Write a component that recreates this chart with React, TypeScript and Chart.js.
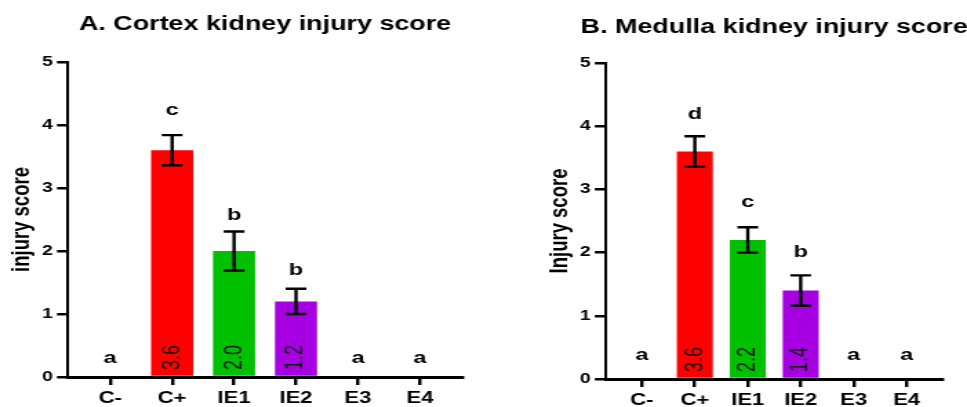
import React, { useEffect, useRef } from "react";
import { Chart, registerables } from "chart.js";

Chart.register(...registerables);

const categories = ["C-", "C+", "IE1", "IE2", "E3", "E4"];
const yTickValues = [0, 1, 2, 3, 4, 5];

const cortexMeans = [0, 3.6, 2.0, 1.2, 0, 0];
const cortexErrors = [0, 0.24, 0.31, 0.2, 0, 0];
const cortexLetters = ["a", "c", "b", "b", "a", "a"];
const cortexLetterPos = [0.23, 4.16, 2.49, 1.62, 0.23, 0.23];
const cortexValueLabels = ["", "3.6", "2.0", "1.2", "", ""];

const medullaMeans = [0, 3.6, 2.2, 1.4, 0, 0];
const medullaErrors = [0, 0.24, 0.2, 0.24, 0, 0];
const medullaLetters = ["a", "d", "c", "b", "a", "a"];
const medullaLetterPos = [0.3, 4.11, 2.72, 1.93, 0.3, 0.3];
const medullaValueLabels = ["", "3.6", "2.2", "1.4", "", ""];

const barColors = ["#FF0000", "#FF0000", "#00C000", "#A600E2", "#A600E2", "#A600E2"];

const FONT = '"Liberation Sans", Arial, sans-serif';

const annotPlugin = {
  id: "panelAnnot",
  afterDatasetsDraw(chart: any, _args: any, opts: any) {
    const { ctx, chartArea } = chart;
    const xs = chart.scales.x;
    const ys = chart.scales.y;
    ctx.save();
    // error bars
    ctx.strokeStyle = "#000";
    ctx.lineWidth = 2.4;
    opts.means.forEach((m: number, i: number) => {
      const e = opts.errors[i];
      if (!e) return;
      const x = xs.getPixelForValue(i);
      const yt = ys.getPixelForValue(m + e);
      const yb = ys.getPixelForValue(m - e);
      const cw = 7.5;
      ctx.beginPath();
      ctx.moveTo(x, yt);
      ctx.lineTo(x, yb);
      ctx.moveTo(x - cw, yt);
      ctx.lineTo(x + cw, yt);
      ctx.moveTo(x - cw, yb);
      ctx.lineTo(x + cw, yb);
      ctx.stroke();
    });
    // significance letters
    ctx.fillStyle = "#000";
    ctx.font = `bold 17px ${FONT}`;
    ctx.textAlign = "center";
    ctx.textBaseline = "alphabetic";
    opts.letters.forEach((l: string, i: number) => {
      ctx.fillText(l, xs.getPixelForValue(i), ys.getPixelForValue(opts.letterPos[i]));
    });
    // rotated value labels inside bars
    ctx.font = `18px ${FONT}`;
    ctx.fillStyle = "#111";
    ctx.textAlign = "left";
    ctx.textBaseline = "middle";
    const y0 = ys.getPixelForValue(0);
    opts.valueLabels.forEach((t: string, i: number) => {
      if (!t) return;
      ctx.save();
      ctx.translate(xs.getPixelForValue(i), y0 - 7);
      ctx.rotate(-Math.PI / 2);
      ctx.fillText(t, 0, 0);
      ctx.restore();
    });
    // panel title
    ctx.font = `bold 19.5px ${FONT}`;
    ctx.fillStyle = "#000";
    ctx.textAlign = "center";
    ctx.textBaseline = "middle";
    ctx.fillText(opts.title, (chartArea.left + chartArea.right) / 2, opts.titleY);
    ctx.restore();
  },
};

type PanelProps = {
  title: string;
  titleY: number;
  yTitle: string;
  yTitlePad: number;
  means: number[];
  errors: number[];
  letters: string[];
  letterPos: number[];
  valueLabels: string[];
  canvasW: number;
  displayW: number;
  left: number;
  yAxisW: number;
  padRight: number;
  padTop: number;
  xAxisH: number;
};

function Panel(p: PanelProps) {
  const ref = useRef<HTMLCanvasElement | null>(null);
  useEffect(() => {
    if (!ref.current) return;
    const chart = new Chart(ref.current, {
      type: "bar",
      data: {
        datasets: [
          {
            data: p.means.map((v, i) => ({ x: i, y: v })),
            backgroundColor: barColors,
            borderWidth: 0,
            categoryPercentage: 1,
            barPercentage: 0.68,
          },
        ],
      },
      plugins: [annotPlugin],
      options: {
        responsive: false,
        animation: false,
        devicePixelRatio: 1,
        layout: { padding: { left: 0, right: p.padRight, top: p.padTop, bottom: 0 } },
        plugins: {
          legend: { display: false },
          tooltip: { enabled: false },
          title: { display: false },
          panelAnnot: {
            title: p.title,
            titleY: p.titleY,
            means: p.means,
            errors: p.errors,
            letters: p.letters,
            letterPos: p.letterPos,
            valueLabels: p.valueLabels,
          },
        } as any,
        scales: {
          x: {
            type: "linear",
            min: -0.68,
            max: 5.68,
            offset: false,
            afterBuildTicks: (s: any) => {
              s.ticks = categories.map((_, i) => ({ value: i }));
            },
            afterFit: (s: any) => {
              s.height = p.xAxisH;
            },
            ticks: {
              callback: (v: any) => categories[Math.round(Number(v))],
              color: "#000",
              font: { family: FONT, size: 16, weight: "bold" },
              padding: 4,
              autoSkip: false,
              maxRotation: 0,
            },
            grid: {
              display: true,
              offset: false,
              drawOnChartArea: false,
              drawTicks: true,
              tickLength: 8,
              lineWidth: 2.4,
              color: "#000",
              tickWidth: 2.4,
              tickColor: "#000",
            },
            border: { display: true, color: "#000", width: 3, z: 1 },
          },
          y: {
            min: 0,
            max: 5,
            afterBuildTicks: (s: any) => {
              s.ticks = yTickValues.map((v) => ({ value: v }));
            },
            afterFit: (s: any) => {
              s.width = p.yAxisW;
            },
            ticks: {
              color: "#000",
              font: { family: FONT, size: 14, weight: "bold" },
              padding: 3,
            },
            grid: {
              display: true,
              drawOnChartArea: false,
              drawTicks: true,
              tickLength: 8,
              lineWidth: 2.5,
              color: "#000",
              tickWidth: 2.5,
              tickColor: "#000",
            },
            border: { display: true, color: "#000", width: 2, z: 1 },
            title: {
              display: true,
              text: p.yTitle,
              color: "#000",
              font: { family: FONT, size: 18.5, weight: "bold" },
              padding: { top: p.yTitlePad, bottom: 0 },
            },
          },
        },
      } as any,
    });
    return () => chart.destroy();
  }, []);
  return (
    <canvas
      ref={ref}
      width={p.canvasW}
      height={407}
      style={{
        position: "absolute",
        left: p.left,
        top: 0,
        width: p.displayW + "px",
        height: "407px",
      }}
    />
  );
}

export default function App() {
  return (
    <div
      style={{
        position: "fixed",
        left: 0,
        top: 0,
        width: 967,
        height: 407,
        overflow: "hidden",
        background: "#fff",
      }}
    >
      <Panel
        title="A. Cortex kidney injury score"
        titleY={25}
        yTitle="injury score"
        yTitlePad={5}
        means={cortexMeans}
        errors={cortexErrors}
        letters={cortexLetters}
        letterPos={cortexLetterPos}
        valueLabels={cortexValueLabels}
        canvasW={350}
        displayW={483}
        left={0}
        yAxisW={49.3}
        padRight={15.2}
        padTop={62}
        xAxisH={30}
      />
      <Panel
        title="B. Medulla kidney injury score"
        titleY={28}
        yTitle="Injury score"
        yTitlePad={44.7}
        means={medullaMeans}
        errors={medullaErrors}
        letters={medullaLetters}
        letterPos={medullaLetterPos}
        valueLabels={medullaValueLabels}
        canvasW={351}
        displayW={484}
        left={483}
        yAxisW={89.1}
        padRight={17.7}
        padTop={63}
        xAxisH={28}
      />
    </div>
  );
}
